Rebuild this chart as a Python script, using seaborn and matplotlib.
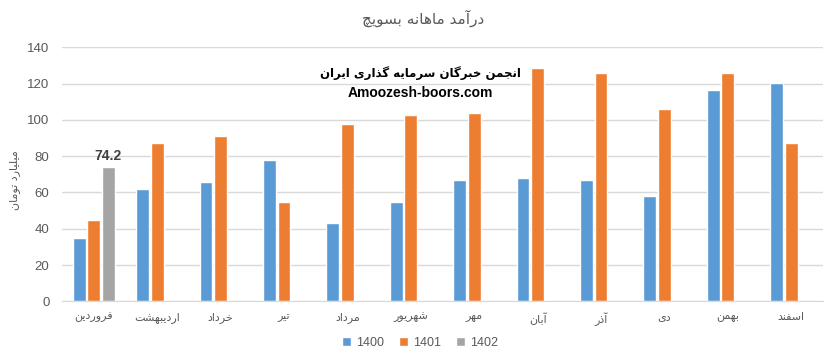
import unicodedata
import pandas as pd
import matplotlib as mpl
mpl.use("Agg")
import matplotlib.pyplot as plt
import seaborn as sns

months = ["فروردین", "اردیبهشت", "خرداد", "تیر", "مرداد", "شهریور",
          "مهر", "آبان", "آذر", "دی", "بهمن", "اسفند"]
years = ["1400", "1401", "1402"]
rev_1400 = [35, 62, 66, 78, 43, 55, 67, 68, 67, 58, 116.5, 120.3]
rev_1401 = [45, 87.4, 91, 55, 98, 102.5, 104, 128.5, 126, 106, 125.8, 87.3]
rev_1402 = [74.2] + [None] * 11
colors = ["#5b9bd5", "#ed7d31", "#a5a5a5"]

title = "درآمد ماهانه بسویچ"
ylabel = "میلیارد تومان"
mark1 = "انجمن خبرگان سرمایه گذاری ایران"
mark2 = "Amoozesh-boors.com"

# letters that only join to the previous letter
RIGHT_ONLY = set("اآأإدذرزژوؤة")


def joins(ch):
    return "\u0621" <= ch <= "\u06ff"


def form(ch, suffix):
    try:
        return unicodedata.lookup(unicodedata.name(ch) + " " + suffix)
    except (KeyError, ValueError):
        return None


def shape(text):
    """Poor man's Arabic/Persian shaping, then flip for RTL display."""
    out = []
    for i, ch in enumerate(text):
        if not joins(ch):
            out.append(ch)
            continue
        prev = text[i - 1] if i > 0 else ""
        nxt = text[i + 1] if i + 1 < len(text) else ""
        join_prev = bool(prev) and joins(prev) and prev not in RIGHT_ONLY
        join_next = bool(nxt) and joins(nxt) and ch not in RIGHT_ONLY
        if join_prev and join_next:
            f = form(ch, "MEDIAL FORM") or form(ch, "FINAL FORM")
        elif join_prev:
            f = form(ch, "FINAL FORM")
        elif join_next:
            f = form(ch, "INITIAL FORM")
        else:
            f = form(ch, "ISOLATED FORM")
        out.append(f or ch)
    return "".join(out)[::-1]


df = pd.DataFrame({
    "month": months * 3,
    "year": [years[0]] * 12 + [years[1]] * 12 + [years[2]] * 12,
    "value": rev_1400 + rev_1401 + rev_1402,
})

sns.set_style("white")
plt.rcParams["font.family"] = ["DejaVu Sans"]

fig = plt.figure(figsize=(8.36, 3.62), dpi=100)
ax = fig.add_axes([62 / 836, 1 - 301.3 / 362, 761 / 836, 254 / 362])

sns.barplot(data=df, x="month", y="value", hue="year", hue_order=years,
            palette=colors, width=0.69, gap=0.12, saturation=1, ax=ax,
            legend=True)

ax.set_ylim(0, 140)
ax.set_yticks(range(0, 141, 20))
ax.set_xlim(-0.5, 11.5)
ax.yaxis.grid(True, color="#d9d9d9", linewidth=1)
ax.set_axisbelow(True)
for s in ["top", "right", "left"]:
    ax.spines[s].set_visible(False)
ax.spines["bottom"].set_color("#d9d9d9")
ax.tick_params(axis="both", length=0, colors="#595959")
ax.tick_params(axis="y", pad=9, labelsize=9)
for t in ax.get_yticklabels():
    t.set_family("Liberation Sans")
    t.set_fontsize(9.5)
ax.tick_params(axis="x", pad=8)
ax.set_xticks(range(12))
ax.set_xticklabels([shape(m) for m in months], fontsize=8)
ax.set_xlabel("")
ax.set_ylabel(shape(ylabel), color="#595959", fontsize=8)
ax.yaxis.set_label_coords(20 / 836, 1 - 180 / 362, transform=fig.transFigure)

# label for the single 1402 bar
ax.text(0 + 0.23, 74.2 + 2, "74.2", ha="center", va="bottom",
        fontsize=10, fontweight="bold", color="#404040", family="Liberation Sans")

fig.text(423 / 836, 1 - 18 / 362, shape(title), ha="center", va="center",
         fontsize=11, color="#595959")
fig.text(420 / 836, 1 - 73 / 362, shape(mark1), ha="center", va="center",
         fontsize=8.5, fontweight="bold", color="black")
fig.text(420 / 836, 1 - 93 / 362, mark2, ha="center", va="center",
         fontsize=10, fontweight="bold", color="black", family="Liberation Sans")

leg = ax.legend(loc="center", bbox_to_anchor=(420 / 836, 1 - 343 / 362),
                bbox_transform=fig.transFigure, ncol=3, frameon=False,
                fontsize=9, handlelength=0.7, handleheight=0.7,
                handletextpad=0.4, columnspacing=1.2, labelcolor="#595959")
for t in leg.get_texts():
    t.set_family("Liberation Sans")

fig.savefig("out.png", dpi=100)
